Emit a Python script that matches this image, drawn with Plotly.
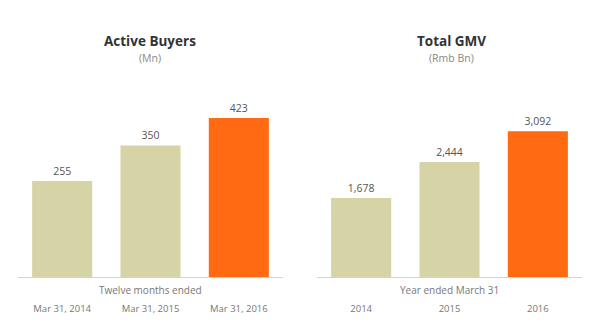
import plotly.graph_objects as go

buyers_cats = ["Mar 31, 2014", "Mar 31, 2015", "Mar 31, 2016"]
buyers_vals = [255, 350, 423]
buyers_labels = ["255", "350", "423"]

gmv_cats = ["2014", "2015", "2016"]
gmv_vals = [1678, 2444, 3092]
gmv_labels = ["1,678", "2,444", "3,092"]

BEIGE = "#d6d3a7"
ORANGE = "#ff6a13"
FONT = "Open Sans"

W, H = 607, 333
fig = go.Figure()

fig.add_trace(go.Bar(x=buyers_cats, y=buyers_vals, text=buyers_labels,
                     textposition="outside", cliponaxis=False,
                     marker=dict(color=[BEIGE, BEIGE, ORANGE], line=dict(width=0)),
                     textfont=dict(size=10.5, color="#555555", family=FONT),
                     width=0.68, xaxis="x", yaxis="y", hoverinfo="skip"))
fig.add_trace(go.Bar(x=gmv_cats, y=gmv_vals, text=gmv_labels,
                     textposition="outside", cliponaxis=False,
                     marker=dict(color=[BEIGE, BEIGE, ORANGE], line=dict(width=0)),
                     textfont=dict(size=10.5, color="#555555", family=FONT),
                     width=0.68, xaxis="x2", yaxis="y2", hoverinfo="skip"))

ybot = (H - 277) / H
ytop = 0.82
hpx = (ytop - ybot) * H

axis_common = dict(showgrid=False, zeroline=False, showline=True, linecolor="#c9d5e2",
                   linewidth=1, ticks="", tickfont=dict(size=9.5, color="#777777", family=FONT),
                   ticklabelstandoff=23, fixedrange=True)

fig.update_layout(
    width=W, height=H, margin=dict(l=0, r=0, t=0, b=0),
    paper_bgcolor="white", plot_bgcolor="white", showlegend=False,
    font=dict(family=FONT),
    xaxis=dict(domain=[18 / W, 283 / W], range=[-0.5, 2.5], anchor="y", **axis_common),
    xaxis2=dict(domain=[317 / W, 582 / W], range=[-0.5, 2.5], anchor="y2", **axis_common),
    yaxis=dict(domain=[ybot, ytop], range=[0, hpx / 0.376], visible=False, fixedrange=True),
    yaxis2=dict(domain=[ybot, ytop], range=[0, hpx / 0.0471], visible=False, anchor="x2", fixedrange=True),
    bargap=0.32,
)

def ann(x, y, text, size, color, bold=False):
    fig.add_annotation(x=x / W, y=1 - y / H, xref="paper", yref="paper", text=(f"<b>{text}</b>" if bold else text),
                       showarrow=False, font=dict(size=size, color=color, family=FONT),
                       xanchor="center", yanchor="middle")

ann(150, 41, "Active Buyers", 13.5, "#333333", bold=True)
ann(150, 58.5, "(Mn)", 10.5, "#888888")
ann(451, 41, "Total GMV", 13.5, "#333333", bold=True)
ann(451, 58.5, "(Rmb Bn)", 10.5, "#888888")
ann(150, 290, "Twelve months ended", 10, "#777777")
ann(449, 290, "Year ended March 31", 10, "#777777")

fig.write_html("out.html")
